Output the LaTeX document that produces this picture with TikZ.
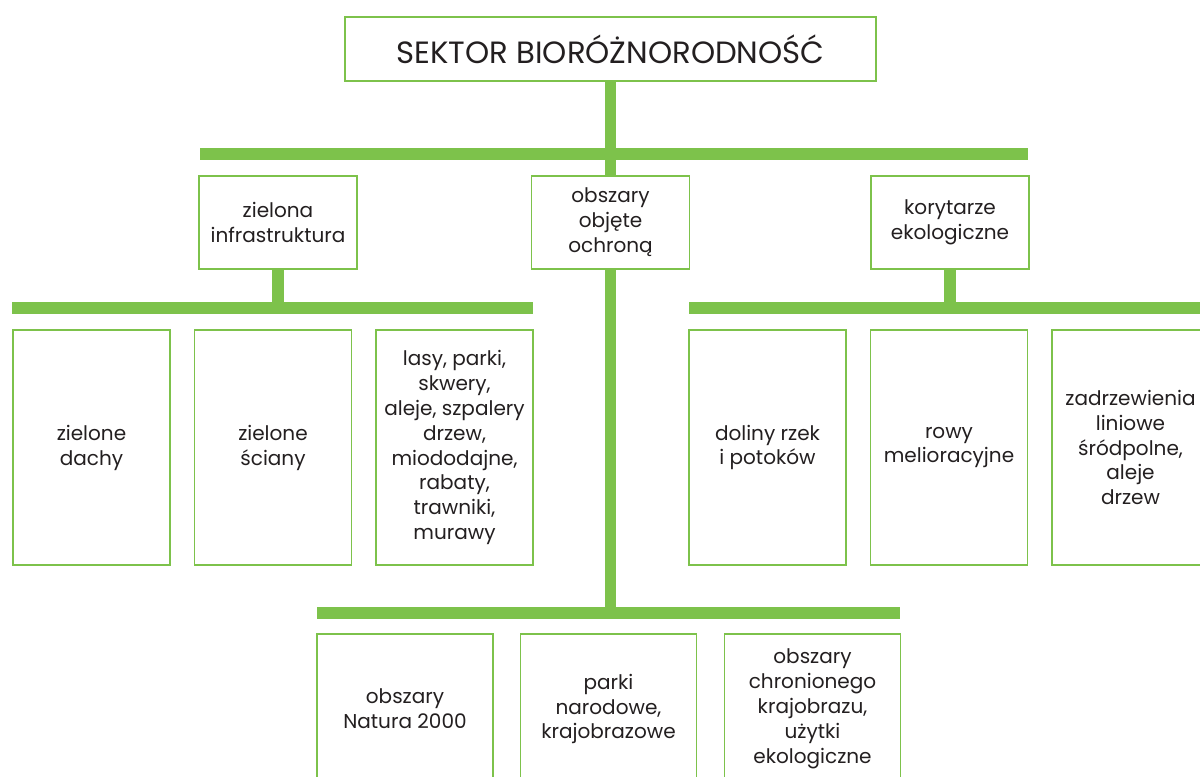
\documentclass[tikz,border=0pt]{standalone}
\usepackage{fontspec}
\setmainfont{Poppins}
\definecolor{leaf}{HTML}{7DC24B}
\definecolor{ink}{HTML}{231F20}
\tikzset{
  box/.style={draw=leaf, line width=1.1pt, fill=white, text=ink, align=center,
    inner sep=0pt, font=\fontsize{11.4}{14.2}\selectfont},
  unit/.style={box, minimum width=3.14cm, minimum height=4.7cm},
  lowunit/.style={box, minimum width=3.52cm, minimum height=3cm},
  bar/.style={draw=leaf, line width=6.8pt},
}
\begin{document}
\begin{tikzpicture}[x=0.02cm,y=-0.02cm]
  \useasboundingbox (0,0) rectangle (1200,777);
  \clip (0,0) rectangle (1200,777);
  % bars
  \coordinate (tbL) at (200,154);  \coordinate (tbR) at (1028,154);
  \coordinate (lbL) at (12,308);   \coordinate (lbR) at (533,308);
  \coordinate (rbL) at (689,308);  \coordinate (rbR) at (1200,308);
  \coordinate (bbL) at (317,613);  \coordinate (bbR) at (900,613);
  \draw[bar] (tbL) -- (tbR);
  \draw[bar] (lbL) -- (lbR);
  \draw[bar] (rbL) -- (rbR);
  \draw[bar] (bbL) -- (bbR);
  % title and sectors
  \node[box, minimum width=10.62cm, minimum height=1.28cm,
    font=\fontsize{17.5}{20}\selectfont] (sektor) at (610.5,49) {SEKTOR BIORÓŻNORODNOŚĆ};
  \node[box, minimum width=3.16cm, minimum height=1.86cm] (ziel) at (278,222.5) {zielona\\infrastruktura};
  \node[box, minimum width=3.16cm, minimum height=1.86cm] (ochr) at (610.5,222.5) {obszary\\objęte\\ochroną};
  \node[box, minimum width=3.16cm, minimum height=1.86cm] (kory) at (950,222.5) {korytarze\\ekologiczne};
  \draw[bar] (sektor.south) -- (ochr.north);
  \draw[bar] (ziel.south) -- (ziel.south |- lbL);
  \draw[bar] (kory.south) -- (kory.south |- rbL);
  \draw[bar] (ochr.south) -- (ochr.south |- bbL);
  % zielona infrastruktura
  \node[unit] (dachy) at (91.5,447.5) {zielone\\dachy};
  \node[unit] (sciany) at (273,447.5) {zielone\\ściany};
  \node[unit] (lasy) at (454.5,447.5) {lasy, parki,\\skwery,\\aleje, szpalery\\drzew,\\miododajne,\\rabaty,\\trawniki,\\murawy};
  % korytarze ekologiczne
  \node[unit] (doliny) at (767.5,447.5) {doliny rzek\\i potoków};
  \node[unit] (rowy) at (949,447.5) {rowy\\melioracyjne};
  \node[unit] (zadrz) at (1130.5,447.5) {zadrzewienia\\liniowe\\śródpolne,\\aleje\\drzew};
  % obszary objete ochrona
  \node[lowunit] (natura) at (405,709) {obszary\\Natura 2000};
  \node[lowunit] (parki) at (608.5,709) {parki\\narodowe,\\krajobrazowe};
  \node[lowunit] (chron) at (812.5,709) {obszary\\chronionego\\krajobrazu,\\użytki\\ekologiczne};
\end{tikzpicture}
\end{document}
